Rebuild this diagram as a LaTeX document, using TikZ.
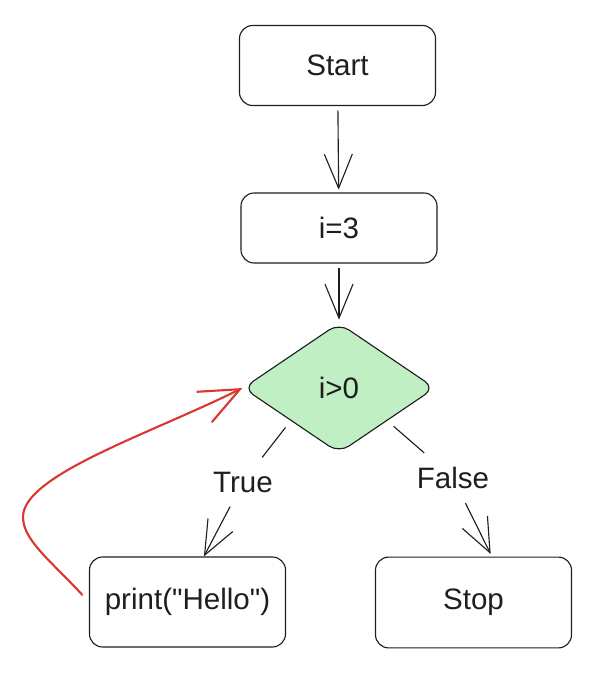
\documentclass[tikz,border=0pt]{standalone}
\usepackage{fontspec}
\setmainfont{Liberation Sans}
\usetikzlibrary{arrows.meta,shapes.geometric}
\definecolor{ink}{HTML}{1E1E1E}
\definecolor{mint}{HTML}{BFEFC2}
\definecolor{loopred}{HTML}{D9372F}

\begin{document}
\begin{tikzpicture}[x=.025cm, y=-.025cm,
  >={Straight Barb[length=.85cm, width=.7cm]},
  every node/.style={font=\fontsize{21}{25}\selectfont, text=ink},
  box/.style={draw=ink, line width=.8pt, rounded corners=.33cm,
    minimum width=4.9cm, minimum height=#1},
  box/.default=2cm,
  cond/.style={diamond, draw=ink, fill=mint, line width=.8pt,
    rounded corners=.3cm, inner sep=0pt,
    minimum width=4.8cm, minimum height=3.25cm},
  lbl/.style={inner sep=.35cm},
  link/.style={draw=ink, line width=.8pt, shorten <=6pt},
  arr/.style={->, draw=ink, line width=.8pt, shorten <=3pt, shorten >=2pt}]
\useasboundingbox (0, 0) rectangle (594, 674);
% boxes
\node [box] (start) at (337.5, 65.5) {Start};
\node [box=1.75cm] (init) at (339, 228) {i=3};
\node [cond] (test) at (339, 388) {i>0};
\node [box=2.25cm] (print) at (187.5, 602) {print(\textquotedbl Hello\textquotedbl)};
\node [box=2.27cm] (stop) at (473.5, 602.5) {Stop};
% branch labels
\node [lbl] (yes) at (243, 482) {True};
\node [lbl] (no) at (453, 478) {False};
% connectors
\draw [arr] (start) -- (init);
\draw [arr] (init) -- (test);
\draw [link] (test.south west) -- (yes);
\draw [arr, shorten <=0pt, shorten >=0pt] (yes) -- ([xshift=.41cm]print.north);
\draw [link] (test.south east) -- (no);
\draw [arr, shorten <=0pt] (no) -- ([xshift=.46cm]stop.north);
% loop back
\draw [loopred, line width=1.5pt, shorten <=7pt, line cap=round,
  ->, >={Straight Barb[length=1cm, width=.85cm]}]
  (print.west) .. controls (50, 560) and (23, 540) .. (23, 517)
  .. controls (23, 475) and (150, 434) .. (test.west);
\end{tikzpicture}
\end{document}
